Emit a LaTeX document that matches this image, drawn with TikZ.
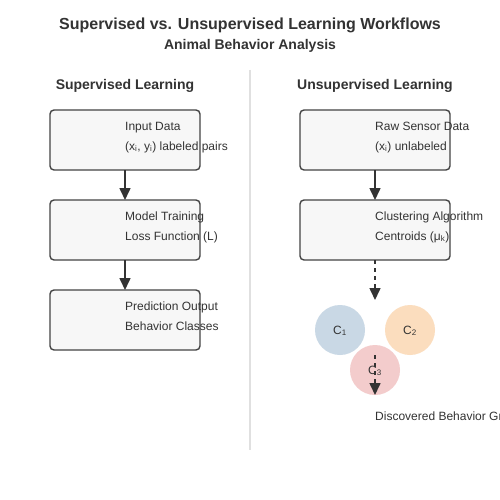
\documentclass[tikz,border=0pt]{standalone}
\usepackage{fontspec}
\setmainfont{Liberation Sans}
\usetikzlibrary{arrows.meta}
\definecolor{ink}{HTML}{333333}
\definecolor{boxline}{HTML}{444444}
\definecolor{boxfill}{HTML}{F7F7F7}
\definecolor{divider}{HTML}{E0E0E0}
\definecolor{cblue}{HTML}{C9D8E5}
\definecolor{corange}{HTML}{FBDDBE}
\definecolor{cred}{HTML}{F3CCCC}
\tikzset{
  stepbox/.style={draw=boxline, line width=1.4pt, fill=boxfill, rounded corners=4pt, minimum width=150pt, minimum height=60pt, inner sep=0pt, outer sep=0pt},
  boxtext/.style={anchor=base west, inner sep=0pt, text=ink, font=\fontsize{12}{14}\selectfont},
  flow/.style={draw=ink, line width=1.6pt, -{Triangle[length=12pt,width=11pt]}},
  dflow/.style={flow, dash pattern=on 4pt off 4pt},
  clus/.style={circle, minimum size=50pt, inner sep=0pt, draw=none},
  clabel/.style={anchor=base, inner sep=0pt, text=ink, font=\fontsize{12}{14}\selectfont},
}
\begin{document}
\begin{tikzpicture}[x=1pt, y=-1pt]
\useasboundingbox (0,0) rectangle (500,500);
\fill[white] (0,0) rectangle (500,500);
% titles
\node[anchor=base, inner sep=0pt, text=ink, font=\bfseries\fontsize{16}{18}\selectfont] (title) at (250,30) {Supervised vs. Unsupervised Learning Workflows};
\node[anchor=base, inner sep=0pt, text=ink, font=\bfseries\fontsize{14}{16}\selectfont] (subtitle) at (250,50) {Animal Behavior Analysis};
\node[anchor=base, inner sep=0pt, text=ink, font=\bfseries\fontsize{14}{16}\selectfont] (lhead) at (125,90) {Supervised Learning};
\node[anchor=base, inner sep=0pt, text=ink, font=\bfseries\fontsize{14}{16}\selectfont] (rhead) at (375,90) {Unsupervised Learning};
% divider
\coordinate (dtop) at (250,70);
\coordinate (dbot) at (250,450);
\draw[divider, line width=2pt] (dtop) -- (dbot);
% left boxes
\node[stepbox] (in) at (125,140) {};
\node[stepbox] (train) at (125,230) {};
\node[stepbox] (pred) at (125,320) {};
\node[boxtext] at (125,130) {Input Data};
\node[boxtext] at (125,150) {(x\textsubscript{i}, y\textsubscript{i}) labeled pairs};
\node[boxtext] at (125,220) {Model Training};
\node[boxtext] at (125,240) {Loss Function (L)};
\node[boxtext] at (125,310) {Prediction Output};
\node[boxtext] at (125,330) {Behavior Classes};
\draw[flow] (in.south) -- (train.north);
\draw[flow] (train.south) -- (pred.north);
% right boxes
\node[stepbox] (raw) at (375,140) {};
\node[stepbox] (clu) at (375,230) {};
\node[boxtext] at (375,130) {Raw Sensor Data};
\node[boxtext] at (375,150) {(x\textsubscript{i}) unlabeled};
\node[boxtext] at (375,220) {Clustering Algorithm};
\node[boxtext] at (375,240) {Centroids (μ\textsubscript{k})};
\draw[flow] (raw.south) -- (clu.north);
\coordinate (cl) at (375,300);
\draw[dflow] (clu.south) -- (cl);
% clusters
\node[clus, fill=cblue] (c1) at (340,330) {};
\node[clus, fill=corange] (c2) at (410,330) {};
\node[clus, fill=cred] (c3) at (375,370) {};
\node[clabel] at (340,334) {C\textsubscript{1}};
\node[clabel] at (410,334) {C\textsubscript{2}};
\node[clabel] at (375,374) {C\textsubscript{3}};
\coordinate (gs) at (375,355);
\coordinate (ge) at (375,395);
\draw[dflow] (gs) -- (ge);
\node[boxtext] (disc) at (375,420) {Discovered Behavior Groups};
\end{tikzpicture}
\end{document}
